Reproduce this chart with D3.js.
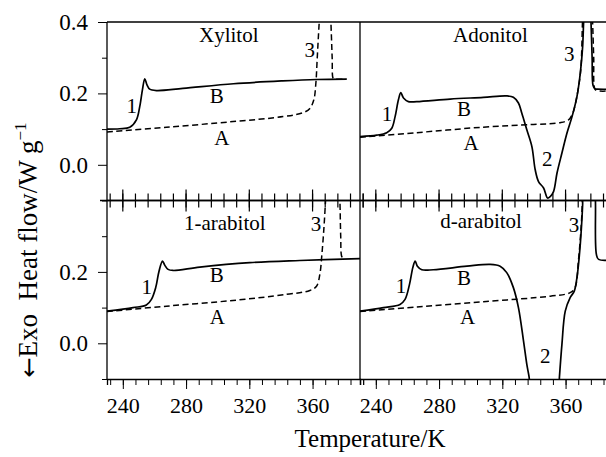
<!DOCTYPE html>
<html>
<head>
<meta charset="utf-8">
<script src="https://cdn.jsdelivr.net/npm/d3@7"></script>
<style>
  body { margin: 0; background: #fff; }
  text { font-family: "Liberation Serif", "DejaVu Serif", serif; fill: #000; }
</style>
</head>
<body>
<div id="chart"></div>
<script>
// data: [temperature K, heat flow W/g]
var panelNames = ["Xylitol", "Adonitol", "1-arabitol", "d-arabitol"];

var xylitolB = [[230, 0.100], [238, 0.101], [244.4, 0.105], [248.6, 0.126], [250.7, 0.163], [252.4, 0.210],
  [253.9, 0.241], [255.3, 0.224], [257, 0.212], [261.3, 0.208], [278, 0.214], [310, 0.227], [341, 0.235],
  [362.5, 0.239], [381.5, 0.240]];
var xylitolA = [[230, 0.092], [267.6, 0.105], [309.7, 0.121], [341.4, 0.135], [354, 0.146], [358.3, 0.158],
  [360.8, 0.182], [362.1, 0.229], [362.9, 0.294], [364.2, 0.399], [365, 0.45], [371, 0.45], [371.6, 0.399],
  [372.4, 0.30], [373, 0.242], [373.8, 0.240], [381.5, 0.240]];

var adonitolB = [[230, 0.079], [240.6, 0.083], [246.9, 0.090], [250.1, 0.1025], [252.2, 0.135], [254.3, 0.182],
  [255.8, 0.202], [257.5, 0.187], [260.6, 0.177], [265.9, 0.177], [287, 0.184], [308, 0.189], [322.8, 0.193],
  [327, 0.189], [330.2, 0.173], [332.3, 0.145], [335.5, 0.098], [338.7, 0.051], [340.8, -0.014], [342.9, -0.047],
  [346.1, -0.065], [348.6, -0.093], [350.3, -0.089], [352.4, -0.075], [354.6, -0.023], [357.7, 0.033],
  [360.9, 0.089], [364.1, 0.135], [367.2, 0.191], [369.3, 0.256], [370.8, 0.331], [371.4, 0.399], [372, 0.45],
  [375.6, 0.45], [376.1, 0.399], [376.8, 0.30], [377.4, 0.222], [378.6, 0.213], [380, 0.212], [392, 0.212]];
var adonitolA = [[230, 0.077], [265.9, 0.090], [308, 0.1055], [339.7, 0.113], [356.6, 0.118], [361.9, 0.126],
  [364.6, 0.145], [367.5, 0.200], [369.6, 0.266], [370.7, 0.399], [371.2, 0.45], [376.6, 0.45], [377.1, 0.399],
  [377.8, 0.30], [378.4, 0.214], [379.6, 0.208], [392, 0.208]];

var lArabitolB = [[230, 0.090], [246.5, 0.100], [254.9, 0.107], [258.1, 0.123], [260.8, 0.156], [262.9, 0.202],
  [265.1, 0.230], [266.5, 0.219], [268.6, 0.207], [271.8, 0.204], [288.7, 0.2135], [320.3, 0.226], [352, 0.232],
  [390, 0.237]];
var lArabitolA = [[230, 0.089], [267.6, 0.104], [309.7, 0.120], [343.5, 0.137], [358.3, 0.148], [362.5, 0.160],
  [364.6, 0.193], [365.9, 0.249], [367.2, 0.324], [368.2, 0.399], [368.8, 0.45], [376.8, 0.45], [377.3, 0.399],
  [377.8, 0.30], [378.4, 0.244], [379.4, 0.238], [380.4, 0.237]];

var dArabitolB = [[230, 0.090], [244.8, 0.100], [255.3, 0.109], [258.5, 0.123], [261.3, 0.165], [263.4, 0.212],
  [264.9, 0.230], [266.3, 0.216], [269.1, 0.206], [276.4, 0.206], [297.6, 0.216], [312.3, 0.221], [318.6, 0.216],
  [322.8, 0.198], [327, 0.156], [330.2, 0.100], [333.4, 0.007], [335.5, -0.059], [337, -0.096], [337.8, -0.13],
  [355.6, -0.13], [356.1, -0.096], [357.7, -0.003], [359.8, 0.090], [362.9, 0.128], [365.5, 0.146], [367.2, 0.184],
  [369.3, 0.277], [370.8, 0.389], [371.2, 0.45], [378.4, 0.45], [378.9, 0.399], [379.5, 0.249], [380.9, 0.235],
  [392, 0.235]];
var dArabitolA = [[230, 0.089], [265.9, 0.1016], [308, 0.1166], [350.3, 0.132], [362.9, 0.1418], [366, 0.156],
  [368.1, 0.230], [370.3, 0.361], [370.8, 0.45]];

var curvesB = [xylitolB, adonitolB, lArabitolB, dArabitolB];
var curvesA = [xylitolA, adonitolA, lArabitolA, dArabitolA];

// curve labels: [text, temperature, heat flow]
var curveLabels = [
  [["1", 245.6, 0.146], ["B", 299.4, 0.173], ["A", 302.6, 0.056], ["3", 358.3, 0.302]],
  [["1", 247.1, 0.124], ["B", 295.8, 0.138], ["A", 300.3, 0.042], ["2", 348.4, -0.002], ["3", 362.3, 0.291]],
  [["1", 255.1, 0.137], ["B", 299.4, 0.171], ["A", 299.7, 0.053], ["3", 362.1, 0.314]],
  [["1", 255.9, 0.140], ["B", 295.8, 0.163], ["A", 298, 0.055], ["2", 347.1, -0.056], ["3", 365.4, 0.313]]
];
var titlePos = [[307, 0.345], [312.5, 0.345], [304.5, 0.316], [306.6, 0.324]];

var xMajorTicks = [240, 280, 320, 360];
var xMinorTicks = d3.range(232, 393, 8);
var yTicksTop = [0.0, 0.2, 0.4];
var yTicksBottom = [0.0, 0.2];
var yMinorTicks = [0.3, 0.1, -0.1];

//set up SVG
var svgWidth = 606;
var svgHeight = 457;
var marginLeft = 107;
var marginTop = 22;
var panelW = 253;
var panelH = 178.5;

var svg = d3.select("#chart")
  .append("svg")
  .attr("width", svgWidth)
  .attr("height", svgHeight);

var x = d3.scaleLinear().domain([230, 390]).range([0, panelW]);
var y = d3.scaleLinear().domain([-0.1, 0.4]).range([panelH, 0]);

var line = d3.line()
  .x(d => x(d[0]))
  .y(d => y(d[1]))
  .curve(d3.curveCatmullRom.alpha(0.5));

panelNames.forEach(function(name, i) {
  var col = i % 2, row = Math.floor(i / 2);
  var g = svg.append("g")
    .attr("transform", `translate(${marginLeft + col * panelW}, ${marginTop + row * panelH})`);

  g.append("clipPath").attr("id", "clip" + i)
    .append("rect").attr("width", panelW).attr("height", panelH);

  var plot = g.append("g").attr("clip-path", `url(#clip${i})`);

  plot.append("path")
    .datum(curvesA[i])
    .attr("d", line)
    .attr("fill", "none")
    .attr("stroke", "#000")
    .attr("stroke-width", 1.5)
    .attr("stroke-dasharray", "6,3.5");

  plot.append("path")
    .datum(curvesB[i])
    .attr("d", line)
    .attr("fill", "none")
    .attr("stroke", "#000")
    .attr("stroke-width", 1.7);

  g.append("text")
    .attr("x", x(titlePos[i][0]))
    .attr("y", y(titlePos[i][1]))
    .attr("text-anchor", "middle")
    .attr("font-size", 21)
    .text(name);

  g.selectAll(".lab")
    .data(curveLabels[i])
    .enter()
    .append("text")
    .attr("x", d => x(d[1]))
    .attr("y", d => y(d[2]))
    .attr("text-anchor", "middle")
    .attr("font-size", 21)
    .text(d => d[0]);

  // frame lines
  g.append("line").attr("x1", 0).attr("x2", panelW).attr("y1", 0).attr("y2", 0)
    .attr("stroke", "#000").attr("stroke-width", 1.3);
  g.append("line").attr("x1", 0).attr("x2", 0).attr("y1", 0).attr("y2", panelH)
    .attr("stroke", "#000").attr("stroke-width", 1.3);

  // x ticks
  if (row === 0) {
    // ticks crossing the middle line
    g.selectAll(".tmin").data(xMinorTicks).enter().append("line")
      .attr("x1", d => x(d)).attr("x2", d => x(d))
      .attr("y1", panelH - 7).attr("y2", panelH + 7)
      .attr("stroke", "#000").attr("stroke-width", 1.2);
    g.selectAll(".tmaj").data(xMajorTicks).enter().append("line")
      .attr("x1", d => x(d)).attr("x2", d => x(d))
      .attr("y1", panelH - 11).attr("y2", panelH + 11)
      .attr("stroke", "#000").attr("stroke-width", 1.2);
    g.append("line").attr("x1", col === 0 ? -7 : 0).attr("x2", panelW).attr("y1", panelH).attr("y2", panelH)
      .attr("stroke", "#000").attr("stroke-width", 1.3);
  } else {
    g.append("g")
      .attr("transform", `translate(0, ${panelH})`)
      .call(d3.axisBottom(x).tickValues(xMinorTicks).tickSize(6).tickFormat(""))
      .call(a => a.select(".domain").attr("stroke-width", 1.3));
    g.append("g")
      .attr("transform", `translate(0, ${panelH})`)
      .call(d3.axisBottom(x).tickValues(xMajorTicks).tickSize(10).tickPadding(8).tickFormat(d3.format("d")))
      .call(a => a.select(".domain").remove())
      .call(a => a.selectAll("text").attr("font-size", 22));
  }

  // y ticks on the left panels only
  if (col === 0) {
    g.append("g")
      .call(d3.axisLeft(y).tickValues(row === 0 ? yTicksTop : yTicksBottom).tickSize(9).tickPadding(10)
        .tickFormat(d3.format(".1f")))
      .call(a => a.select(".domain").remove())
      .call(a => a.selectAll("text").attr("font-size", 23));
    g.append("g")
      .call(d3.axisLeft(y).tickValues(yMinorTicks).tickSize(5).tickFormat(""))
      .call(a => a.select(".domain").remove());
  }
});

// y axis title
var yTitle = svg.append("text")
  .attr("transform", "translate(37, 250) rotate(-90)")
  .attr("text-anchor", "middle")
  .attr("font-size", 27);
yTitle.append("tspan").attr("font-family", "DejaVu Sans").attr("font-size", 24).text("\u2190");
yTitle.append("tspan").text("Exo\u00a0\u00a0Heat flow/W g");
yTitle.append("tspan").attr("font-size", 17).attr("dy", -11).text("\u22121");

svg.append("text")
  .attr("x", 370)
  .attr("y", 447)
  .attr("text-anchor", "middle")
  .attr("font-size", 25)
  .text("Temperature/K");
</script>
</body>
</html>
